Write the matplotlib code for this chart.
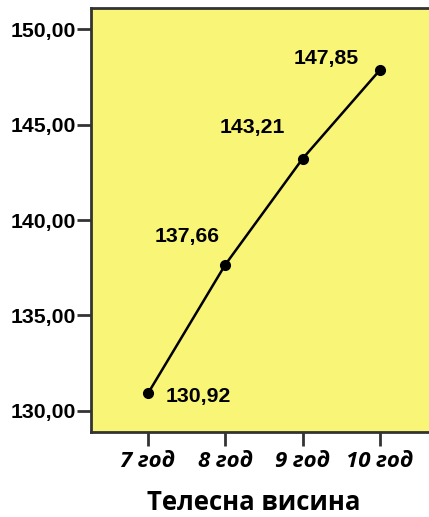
import matplotlib
matplotlib.use("Agg")
import matplotlib.pyplot as plt

categories = ["7 год", "8 год", "9 год", "10 год"]
values = [130.92, 137.66, 143.21, 147.85]
value_labels = ["130,92", "137,66", "143,21", "147,85"]
yticks = [130, 135, 140, 145, 150]
ytick_labels = ["130,00", "135,00", "140,00", "145,00", "150,00"]
xlabel = "Телесна висина"

W, H = 429, 517
fig = plt.figure(figsize=(W / 100, H / 100), dpi=100)
fig.patch.set_facecolor("white")
ax = fig.add_axes([91 / W, 1 - 432 / H, 1.05 - 91 / W, (432 - 8) / H])
ax.set_facecolor("#F9F577")

x = list(range(len(categories)))
ax.plot(x, values, color="black", lw=1.8, marker="o", ms=7, zorder=3)

ax.set_xlim(-0.737, 3.913)
ax.set_ylim(128.9, 151.1)
ax.set_yticks(yticks)
ax.set_yticklabels(ytick_labels, fontfamily="Liberation Sans", fontweight="bold", fontsize=15.3)
ax.set_xticks(x)
ax.set_xticklabels(categories, fontfamily="Open Sans", fontweight="bold", style="italic", fontsize=16)

for s in ["right"]:
    ax.spines[s].set_visible(False)
for s in ["left", "top", "bottom"]:
    ax.spines[s].set_linewidth(2)
    ax.spines[s].set_color("#333333")
ax.tick_params(axis="both", direction="out", length=10, width=2, color="#333333", pad=1)
ax.tick_params(axis="x", pad=4)

offsets = [(50, -3), (-38, 28), (-50, 31), (-54, 12)]
for xi, v, lab, off in zip(x, values, value_labels, offsets):
    ax.annotate(lab, (xi, v), xytext=off, textcoords="offset pixels",
                ha="center", va="center", fontfamily="Liberation Sans",
                fontweight="bold", fontsize=15.3)

fig.text(254 / W, 1 - 502 / H, xlabel, ha="center", va="center",
         fontfamily="Open Sans", fontweight="bold", fontsize=18.5)

fig.savefig("out.png", dpi=100)
